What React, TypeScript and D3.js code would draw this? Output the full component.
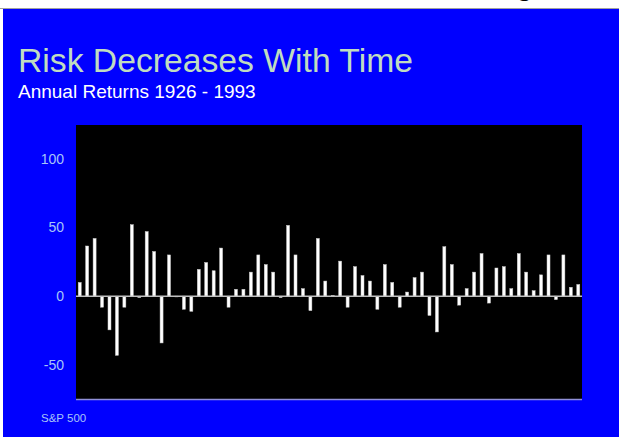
import React, { useEffect, useRef } from "react";
import * as d3 from "d3";

// S&P 500 annual total returns (%), 1926 - 1993
const years: number[] = d3.range(1926, 1994);
const returns: number[] = [
  10, 36.5, 42, -8, -24.5, -43, -8, 52, -1, 47,
  32.5, -34, 30, -0.5, -9.5, -11, 19.5, 24.5, 18.5, 35,
  -8, 5, 5, 17.5, 30, 23, 17.5, -1, 51.5, 30,
  5.5, -10.5, 42, 11, 0.5, 25.5, -8, 21.5, 15, 11,
  -9.5, 23, 10, -8, 3, 13.5, 17.5, -14, -26, 36,
  23, -6.5, 5.5, 17.5, 31, -5, 20.5, 21.5, 5.5, 31,
  17.5, 4, 15.5, 30, -2.5, 30, 6.5, 8.5,
];
const yTicks: number[] = [-50, 0, 50, 100];
const titleText = "Risk Decreases With Time";
const subtitleText = "Annual Returns 1926 - 1993";
const sourceText = "S&P 500";

const W = 619;
const H = 437;
const plot = { left: 76, right: 582, top: 125, bottom: 400 };

export default function App() {
  const ref = useRef<SVGSVGElement>(null);

  useEffect(() => {
    const svg = d3.select(ref.current);
    svg.selectAll("*").remove();

    // page strip above the slide
    svg.append("rect").attr("width", W).attr("height", H).attr("fill", "#ffffff");
    svg
      .append("text")
      .attr("x", 518)
      .attr("y", -4)
      .attr("font-family", "'Liberation Serif', serif")
      .attr("font-size", 26)
      .attr("fill", "#000")
      .text("g");
    svg
      .append("line")
      .attr("x1", 0)
      .attr("x2", W)
      .attr("y1", 8.5)
      .attr("y2", 8.5)
      .attr("stroke", "#a0a0a0");

    // slide background
    svg
      .append("rect")
      .attr("x", 3)
      .attr("y", 9)
      .attr("width", W - 3)
      .attr("height", H - 9)
      .attr("fill", "#0000ff");

    svg
      .append("text")
      .attr("x", 18)
      .attr("y", 72)
      .attr("font-family", "'Liberation Sans', Arial, sans-serif")
      .attr("font-size", 33.7)
      .attr("fill", "#c0dcc0")
      .text(titleText);

    svg
      .append("text")
      .attr("x", 18)
      .attr("y", 98)
      .attr("font-family", "'Liberation Sans', Arial, sans-serif")
      .attr("font-size", 19)
      .attr("fill", "#ffffff")
      .text(subtitleText);

    const x = d3
      .scaleBand<number>()
      .domain(years)
      .range([plot.left, plot.right]);
    const y = d3.scaleLinear().domain([-75.5, 124.5]).range([plot.bottom, plot.top]);

    // plot area
    svg
      .append("rect")
      .attr("x", plot.left)
      .attr("y", plot.top)
      .attr("width", plot.right - plot.left)
      .attr("height", plot.bottom - plot.top)
      .attr("fill", "#000000");

    const barW = 3;
    svg
      .append("g")
      .selectAll("rect")
      .data(returns)
      .join("rect")
      .attr("x", (_, i) => (x(years[i]) as number) + x.bandwidth() / 2 - barW / 2)
      .attr("y", (d) => y(Math.max(0, d)))
      .attr("width", barW)
      .attr("height", (d) => Math.abs(y(d) - y(0)))
      .attr("fill", "#ffffff")
      .attr("stroke", "#c8c8c8")
      .attr("stroke-width", 0.5);

    // zero line
    svg
      .append("line")
      .attr("x1", plot.left)
      .attr("x2", plot.right)
      .attr("y1", y(0))
      .attr("y2", y(0))
      .attr("stroke", "#c0c0c0")
      .attr("stroke-width", 1.5);

    // baseline under the plot
    svg
      .append("line")
      .attr("x1", plot.left)
      .attr("x2", plot.right)
      .attr("y1", plot.bottom - 0.5)
      .attr("y2", plot.bottom - 0.5)
      .attr("stroke", "#9090d8")
      .attr("stroke-width", 1.5);

    // y tick labels
    svg
      .append("g")
      .selectAll("text")
      .data(yTicks)
      .join("text")
      .attr("x", 64)
      .attr("y", (d) => y(d))
      .attr("dy", "0.36em")
      .attr("text-anchor", "end")
      .attr("font-family", "'Liberation Sans', Arial, sans-serif")
      .attr("font-size", 14)
      .attr("fill", "#a8c4f8")
      .text((d) => String(d));

    svg
      .append("text")
      .attr("x", 41)
      .attr("y", 422)
      .attr("font-family", "'Liberation Sans', Arial, sans-serif")
      .attr("font-size", 11.5)
      .attr("fill", "#a8c4f8")
      .text(sourceText);
  }, []);

  return (
    <svg
      ref={ref}
      width={W}
      height={H}
      style={{ position: "fixed", left: 0, top: 0, display: "block" }}
    />
  );
}
